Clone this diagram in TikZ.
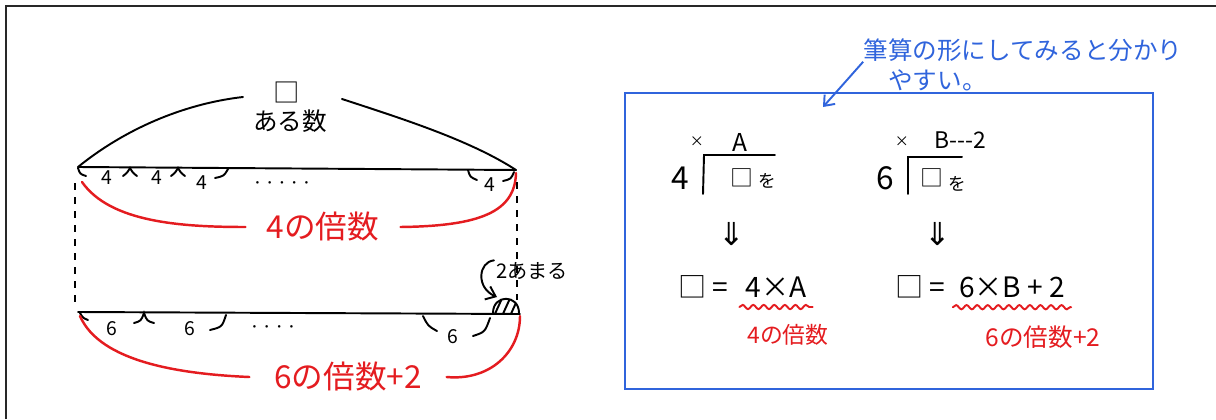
\documentclass[tikz,border=0pt]{standalone}
\usepackage{fontspec}
\setmainfont{Noto Sans CJK JP}
\newfontfamily\symfont{DejaVu Sans}
\usepackage{xcolor}
\usepackage{tikz}
\usetikzlibrary{arrows.meta, decorations.pathmorphing}
\definecolor{penred}{RGB}{228,28,32}
\definecolor{penblue}{RGB}{48,100,220}
\definecolor{framegray}{RGB}{40,40,40}
\newcommand{\fsz}[1]{\fontsize{#1}{#1}\selectfont}

\begin{document}
\begin{tikzpicture}[x=0.02cm, y=-0.02cm,
  pen/.style={line width=1.1pt, line cap=round},
  redpen/.style={penred, line width=1.4pt, line cap=round},
  bluepen/.style={penblue, line width=1.1pt},
  guide/.style={line width=0.8pt, dash pattern=on 4pt off 4pt},
  seglabel/.style={inner sep=0pt, font=\fsz{11}},
  wavy/.style={redpen, line width=1.1pt, decorate, decoration={snake, amplitude=1.2pt, segment length=6pt}},
  barb/.style={-{Straight Barb[length=5pt, width=8pt]}}]
\useasboundingbox (0,0) rectangle (1216,419);
\draw[framegray, line width=1.4pt] (6,419) -- (6,6) -- (1216,6);
% upper tape: the number
\coordinate (tl) at (78,167);
\coordinate (tr) at (516,170);
\draw[pen] (tl) -- (tr);
\node (box) at (287,92) [inner sep=0pt, font=\fsz{15}] {□};
\node (num) at (290,121) [inner sep=0pt, font=\fsz{14}] {ある数};
\coordinate (numl) at (243,97);
\coordinate (numr) at (342,99);
\draw[pen] (tl) .. controls (130,125) and (190,103) .. (numl);
\draw[pen] (numr) .. controls (400,118) and (470,140) .. (tr);
% pieces of 4
\draw[pen] (78,168) .. controls (80,174) .. (86,176);
\draw[pen] (123,176) .. controls (127,173) .. (130,168) .. controls (133,173) .. (137,176);
\draw[pen] (171,176) .. controls (175,173) .. (178,168) .. controls (181,173) .. (185,176);
\draw[pen] (215,178) .. controls (224,176) .. (228,169);
\draw[pen] (468,170) .. controls (470,177) .. (477,180);
\draw[pen] (503,181) .. controls (511,179) .. (514,172);
\node[seglabel] (f1) at (107,178) {4};
\node[seglabel] (f2) at (157,178) {4};
\node[seglabel] (f3) at (202,183) {4};
\node[seglabel] (f4) at (490,185) {4};
\node[inner sep=0pt, font=\fsz{7}] (fdots) at (282,185) {・・・・・};
% red: multiple of 4
\node (m4) at (323,227) [penred, inner xsep=12pt, font=\fsz{18}] {4の倍数};
\coordinate (tlr) at (82,182);
\coordinate (trr) at (516,173);
\draw[redpen] (tlr) .. controls (110,222) and (180,227) .. (m4.west);
\draw[redpen] (m4.east) .. controls (480,226) and (515,212) .. (trr);
% guides
\draw[guide] (75,183) -- (75,308);
\draw[guide] (517,182) -- (517,300);
% lower tape
\coordinate (bl) at (78,312);
\coordinate (br) at (520,314);
\draw[pen] (bl) -- (br);
\draw[pen] (80,313) .. controls (83,318) .. (88,320);
\draw[pen] (134,323) .. controls (141,321) .. (144,313) .. controls (147,321) .. (154,323);
\draw[pen] (210,330) .. controls (222,327) .. (226,315);
\draw[pen] (423,316) .. controls (428,326) .. (437,331);
\draw[pen] (473,336) .. controls (485,332) .. (490,318);
\node[seglabel] (s1) at (112,329) {6};
\node[seglabel] (s2) at (190,329) {6};
\node[seglabel] (s3) at (453,337) {6};
\node[inner sep=0pt, font=\fsz{7}] (sdots) at (273,329) {・・・・};
% remainder 2
\begin{scope}
\clip (493,313) .. controls (493,294) and (519,294) .. (519,313) -- cycle;
\foreach \h in {486,494,502,510,518}
  \draw[pen] (\h,316) -- (\h+10,294);
\end{scope}
\draw[pen] (493,313) .. controls (493,294) and (519,294) .. (519,313);
\node (rem) at (532,271) [inner sep=1pt, font=\fsz{11.5}] {2あまる};
\coordinate (remtip) at (497,297);
\draw[pen, barb] (rem.north west) .. controls (478,262) and (476,288) .. (remtip);
% red: multiple of 6 plus 2
\node (m6) at (348,377) [penred, inner xsep=14pt, font=\fsz{18}] {6の倍数+2};
\coordinate (blr) at (80,316);
\coordinate (brr) at (520,316);
\draw[redpen] (blr) .. controls (100,362) and (180,374) .. (m6.west);
\draw[redpen] (m6.east) .. controls (490,381) and (520,352) .. (brr);
% right panel
\draw[bluepen] (625,93) rectangle (1153,389);
\node (note1) at (1023,50) [penblue, inner sep=0pt, font=\fsz{14}] {筆算の形にしてみると分かり};
\node (note2) at (888,80) [penblue, anchor=west, inner sep=0pt, font=\fsz{14}] {やすい。};
\coordinate (notetip) at (823,107);
\draw[bluepen, barb] (note1.south west) -- (notetip);
% 4 ) box
\node[inner sep=0pt, font=\fsz{8}] (xa) at (697,142) {×};
\node[inner sep=0pt, font=\fsz{14}] (qa) at (740,142) {A};
\node[inner sep=0pt, font=\fsz{18}] (da) at (680,178) {4};
\node[inner sep=0pt, font=\fsz{13}] (ba) at (742,178) {□};
\node[inner sep=0pt, font=\fsz{10}] (wa) at (767,181) {を};
\draw[pen] (703,194) -- (704,155) -- (775,155);
% 6 ) box
\node[inner sep=0pt, font=\fsz{8}] (xb) at (902,142) {×};
\node[inner sep=0pt, font=\fsz{13}] (qb) at (960,140) {B{-}{-}{-}2};
\node[inner sep=0pt, font=\fsz{18}] (db) at (885,178) {6};
\node[inner sep=0pt, font=\fsz{13}] (bb) at (932,178) {□};
\node[inner sep=0pt, font=\fsz{10}] (wb) at (957,184) {を};
\draw[pen] (908,194) -- (908,157) -- (962,157);
% arrows down
\node[font=\symfont\fsz{18}] (da1) at (732,234) {⇓};
\node[font=\symfont\fsz{18}] (da2) at (938,234) {⇓};
% results
\node[font=\fsz{16}] (eqa) at (703,287) {□ =};
\node[font=\fsz{16}] (ra) at (776,287) {4×A};
\draw[wavy] ([yshift=-2pt]ra.south west) -- ([yshift=-2pt]ra.south east);
\node[penred, font=\fsz{13}] (la) at (788,335) {4の倍数};
\node[font=\fsz{16}] (eqb) at (920,287) {□ =};
\node[font=\fsz{16}] (rb) at (1012,287) {6×B + 2};
\draw[wavy] ([yshift=-2pt]rb.south west) -- ([yshift=-2pt]rb.south east);
\node[penred, font=\fsz{14}] (lb) at (1043,337) {6の倍数+2};
\end{tikzpicture}
\end{document}
